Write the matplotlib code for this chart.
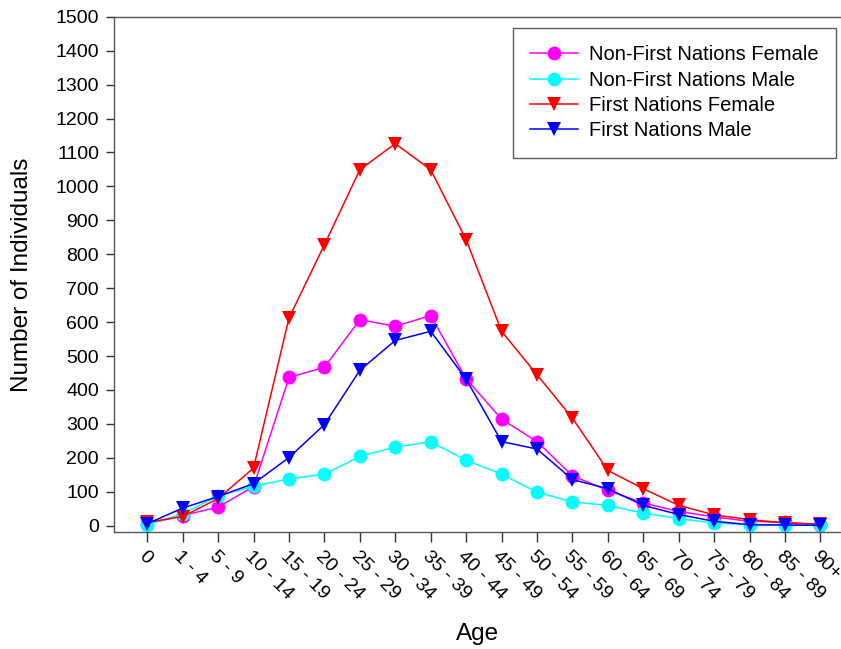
import matplotlib
matplotlib.use('Agg')
import matplotlib.pyplot as plt

plt.rcParams['font.family'] = ['Liberation Sans', 'DejaVu Sans']

age_groups = ['0', '1 - 4', '5 - 9', '10 - 14', '15 - 19', '20 - 24', '25 - 29',
              '30 - 34', '35 - 39', '40 - 44', '45 - 49', '50 - 54', '55 - 59',
              '60 - 64', '65 - 69', '70 - 74', '75 - 79', '80 - 84', '85 - 89', '90+']

nfn_female = [5, 30, 55, 115, 437, 467, 607, 588, 619, 433,
              314, 248, 147, 104, 67, 42, 26, 13, 10, 3]
nfn_male = [3, 35, 88, 116, 138, 152, 204, 232, 247, 193,
            152, 99, 70, 60, 37, 21, 8, 3, 2, 3]
fn_female = [10, 27, 80, 170, 612, 828, 1049, 1126, 1049, 843,
             573, 445, 317, 163, 109, 60, 32, 18, 8, 5]
fn_male = [6, 52, 86, 124, 201, 298, 458, 546, 573, 432,
           248, 226, 136, 109, 60, 33, 13, 3, 2, 1]

series = [
    ('Non-First Nations Female', nfn_female, '#FF00FF', 'o'),
    ('Non-First Nations Male', nfn_male, '#00FFFF', 'o'),
    ('First Nations Female', fn_female, '#FF0000', 'v'),
    ('First Nations Male', fn_male, '#0000FF', 'v'),
]

fig = plt.figure(figsize=(8.41, 6.49), dpi=100)
ax = fig.add_axes([114.3 / 841, 1 - 532.3 / 649, 1 - 114.3 / 841, (532.3 - 16.7) / 649])

x = list(range(len(age_groups)))
for label, vals, color, marker in series:
    ax.plot(x, vals, color=color, marker=marker, markersize=10, linewidth=1.1,
            markeredgewidth=0, label=label)

ax.set_xlim(-0.93, 19.58)
ax.set_ylim(-19.4, 1500)
ax.set_yticks(range(0, 1501, 100))
ax.set_xticks(x)
ax.set_xticklabels(age_groups, rotation=-45, ha='left', va='top', rotation_mode='anchor')

ax.spines['right'].set_visible(False)
for s in ['left', 'bottom', 'top']:
    ax.spines[s].set_linewidth(1.0)
    ax.spines[s].set_color('#555555')
ax.tick_params(axis='both', direction='out', length=6, width=1.0, color='#333333', labelsize=14)
ax.tick_params(axis='x', length=7, pad=4)
ax.tick_params(axis='y', pad=5)

ax.set_xlabel('Age', fontsize=17.5)
ax.set_ylabel('Number of Individuals', fontsize=17.5)
ax.xaxis.set_label_coords(0.5, -0.176)
ax.yaxis.set_label_coords(-0.112, 0.5)

leg = ax.legend(loc='upper right', bbox_to_anchor=(836 / 841, 1 - 28 / 649),
                bbox_transform=fig.transFigure, fontsize=14.5, frameon=True,
                fancybox=False, edgecolor='#333333', handlelength=2.4,
                labelspacing=0.32, borderpad=0.85, handletextpad=0.55,
                borderaxespad=0)
leg.get_frame().set_linewidth(1.0)

fig.savefig('out.png', dpi=100)
